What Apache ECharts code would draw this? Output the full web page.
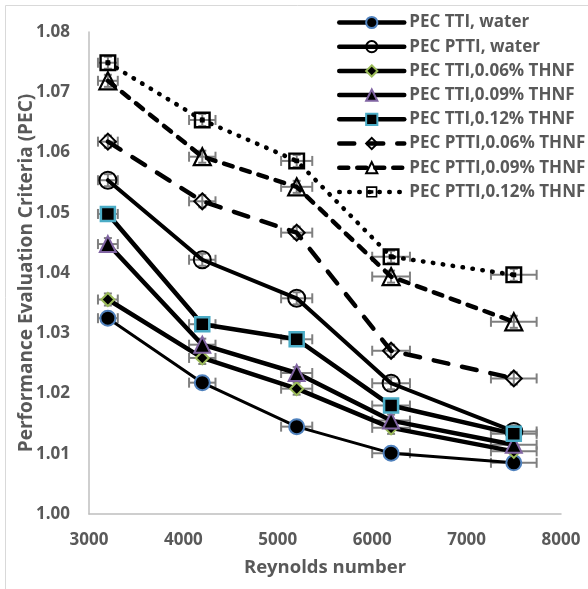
<!DOCTYPE html>
<html>
<head>
<meta charset="utf-8">
<script src="https://cdn.jsdelivr.net/npm/echarts@6/dist/echarts.min.js"></script>
<style>
  html, body { margin: 0; padding: 0; background: #fff; }
  #chart { width: 588px; height: 589px; }
</style>
</head>
<body>
<div id="chart"></div>
<script>
// Reynolds numbers tested
const reynolds = [3200, 4200, 5200, 6200, 7500];

// Performance evaluation criteria per configuration
const pecTtiWater  = [1.0325, 1.0218, 1.0145, 1.0101, 1.0085];
const pecPttiWater = [1.0554, 1.0422, 1.0358, 1.0217, 1.0137];
const pecTti006    = [1.0356, 1.0259, 1.0208, 1.0143, 1.0104];
const pecTti009    = [1.0448, 1.0281, 1.0234, 1.0155, 1.0115];
const pecTti012    = [1.0498, 1.0315, 1.0290, 1.0180, 1.0133];
const pecPtti006   = [1.0618, 1.0519, 1.0467, 1.0271, 1.0225];
const pecPtti009   = [1.0719, 1.0593, 1.0543, 1.0394, 1.0319];
const pecPtti012   = [1.0749, 1.0654, 1.0586, 1.0427, 1.0397];

// Uncertainty of each measurement
const reynoldsError = [105, 140, 165, 200, 242];
const pecError = [0.001, 0.001, 0.001, 0.001, 0.001];

// Axis ticks
const xTicks = [3000, 4000, 5000, 6000, 7000, 8000];
const yTicks = [1.00, 1.01, 1.02, 1.03, 1.04, 1.05, 1.06, 1.07, 1.08];

const seriesNames = [
  'PEC TTI, water',
  'PEC PTTI, water',
  'PEC TTI,0.06% THNF',
  'PEC TTI,0.09% THNF',
  'PEC TTI,0.12% THNF',
  'PEC PTTI,0.06% THNF',
  'PEC PTTI,0.09% THNF',
  'PEC PTTI,0.12% THNF'
];
const seriesValues = [pecTtiWater, pecPttiWater, pecTti006, pecTti009, pecTti012, pecPtti006, pecPtti009, pecPtti012];

const CLEAR = 'rgba(255,255,255,0)';
// outlined square with a dot in its centre
const squareDot = 'path://M0 0H14V14H0Z M2 2V12H12V2Z M5 5H9V9H5Z';

const styles = [
  { symbol: 'circle',   size: 15, fill: '#000', border: '#4F81BD', bw: 2,   lw: 3,   dash: 'solid' },
  { symbol: 'circle',   size: 17, fill: CLEAR,  border: '#000',    bw: 2,   lw: 4,   dash: 'solid' },
  { symbol: 'diamond',  size: 13, fill: '#000', border: '#9BBB59', bw: 2,   lw: 4.5, dash: 'solid' },
  { symbol: 'triangle', size: 16, fill: '#000', border: '#8064A2', bw: 2,   lw: 4.5, dash: 'solid' },
  { symbol: 'rect',     size: 14, fill: '#000', border: '#4BACC6', bw: 2.5, lw: 4.5, dash: 'solid' },
  { symbol: 'diamond',  size: 16, fill: CLEAR,  border: '#000',    bw: 2,   lw: 4.5, dash: [15, 14] },
  { symbol: 'triangle', size: 17, fill: CLEAR,  border: '#000',    bw: 2.2, lw: 4.5, dash: [9, 9] },
  { symbol: squareDot,  size: 17, fill: '#000', border: '#000',    bw: 0,   lw: 4.5, dash: [0.5, 9.5] }
];

const lineSeries = seriesNames.map((name, i) => {
  const s = styles[i];
  return {
    name: name,
    type: 'line',
    z: 3 + i,
    data: reynolds.map((re, k) => [re, seriesValues[i][k]]),
    symbol: s.symbol,
    symbolSize: s.size,
    showAllSymbol: true,
    lineStyle: { color: '#000', width: s.lw, type: s.dash, cap: 'round', join: 'round' },
    itemStyle: { color: s.fill, borderColor: s.border, borderWidth: s.bw },
    emphasis: { disabled: true },
    animation: false
  };
});

// error bars for every point of every series
const errorData = [];
seriesValues.forEach(vals => {
  reynolds.forEach((re, k) => {
    errorData.push([re, vals[k], reynoldsError[k], pecError[k]]);
  });
});

const errorSeries = {
  type: 'custom',
  name: 'error',
  z: 2,
  clip: false,
  silent: true,
  animation: false,
  encode: { x: 0, y: 1 },
  data: errorData,
  renderItem: function (params, api) {
    const x = api.value(0), y = api.value(1), ex = api.value(2), ey = api.value(3);
    const left = api.coord([x - ex, y]);
    const right = api.coord([x + ex, y]);
    const top = api.coord([x, y + ey]);
    const bottom = api.coord([x, y - ey]);
    const cap = 5, vcap = 4;
    const st = { stroke: '#7F7F7F', lineWidth: 2 };
    return {
      type: 'group',
      children: [
        { type: 'line', shape: { x1: left[0], y1: left[1], x2: right[0], y2: right[1] }, style: st },
        { type: 'line', shape: { x1: left[0], y1: left[1] - cap, x2: left[0], y2: left[1] + cap }, style: st },
        { type: 'line', shape: { x1: right[0], y1: right[1] - cap, x2: right[0], y2: right[1] + cap }, style: st },
        { type: 'line', shape: { x1: top[0], y1: top[1], x2: bottom[0], y2: bottom[1] }, style: st },
        { type: 'line', shape: { x1: top[0] - vcap, y1: top[1], x2: top[0] + vcap, y2: top[1] }, style: st },
        { type: 'line', shape: { x1: bottom[0] - vcap, y1: bottom[1], x2: bottom[0] + vcap, y2: bottom[1] }, style: st }
      ]
    };
  }
};

const textGrey = '#595959';
const font = '"Open Sans", "Liberation Sans", sans-serif';

const chart = echarts.init(document.getElementById('chart'), null, { renderer: 'canvas' });
chart.setOption({
  backgroundColor: '#fff',
  animation: false,
  textStyle: { fontFamily: font },
  graphic: [{
    type: 'rect',
    shape: { x: 5.5, y: 5.5, width: 640, height: 640 },
    style: { fill: 'none', stroke: '#D9D9D9', lineWidth: 1 },
    silent: true
  }],
  grid: { left: 89, right: 27, top: 32, bottom: 75 },
  legend: {
    data: seriesNames,
    orient: 'vertical',
    left: 332,
    top: 8,
    itemWidth: 65,
    itemHeight: 14,
    itemGap: 5.2,
    selectedMode: false,
    lineStyle: { width: 4.5 },
    textStyle: { color: textGrey, fontSize: 17, fontWeight: 'bold', fontFamily: font, lineHeight: 19 }
  },
  xAxis: {
    type: 'value',
    min: xTicks[0],
    max: xTicks[xTicks.length - 1],
    interval: xTicks[1] - xTicks[0],
    name: 'Reynolds number',
    nameLocation: 'middle',
    nameGap: 44,
    nameMoveOverlap: false,
    nameTextStyle: { color: textGrey, fontSize: 18.5, fontWeight: 'bold', fontFamily: font },
    axisLine: { show: true, lineStyle: { color: '#BFBFBF', width: 1.5 } },
    axisTick: { show: false },
    splitLine: { show: false },
    axisLabel: {
      color: textGrey, fontSize: 17, fontWeight: 'bold', margin: 18, fontFamily: font,
      formatter: v => String(v)
    }
  },
  yAxis: {
    type: 'value',
    min: yTicks[0],
    max: yTicks[yTicks.length - 1],
    interval: 0.01,
    name: 'Performance Evaluation Criteria (PEC)',
    nameLocation: 'middle',
    nameGap: 53,
    nameMoveOverlap: false,
    nameTextStyle: { color: textGrey, fontSize: 19, fontWeight: 'bold', fontFamily: font },
    axisLine: { show: true, lineStyle: { color: '#BFBFBF', width: 1.5 } },
    axisTick: { show: false },
    splitLine: { show: false },
    axisLabel: {
      color: textGrey, fontSize: 17, fontWeight: 'bold', margin: 19, fontFamily: font,
      formatter: v => v.toFixed(2)
    }
  },
  series: [errorSeries].concat(lineSeries)
});
</script>
</body>
</html>
